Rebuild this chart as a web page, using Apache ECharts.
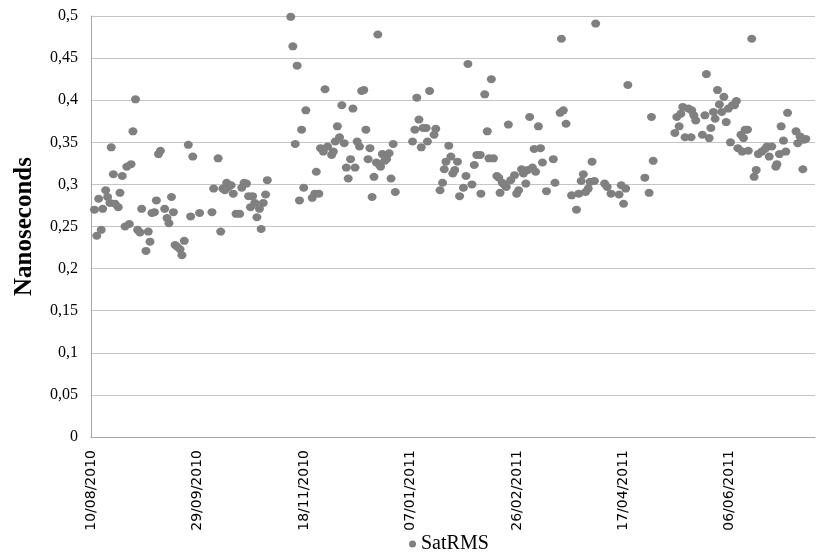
<!DOCTYPE html>
<html><head><meta charset="utf-8">
<script src="https://cdn.jsdelivr.net/npm/echarts@6/dist/echarts.min.js"></script>
<style>html,body{margin:0;padding:0;background:#fff}#c{width:818px;height:555px}</style>
</head><body><div id="c"></div>
<script>
// Days elapsed since the first date on the axis (10/08/2010)
const startDate = '2010-08-10';
const dayOffsets = [
1.6,2.7,3.6,4.8,5.5,6.9,7.8,8.9,9.5,10.5,11.3,12.8,13.6,14.7,16.0,16.8,18.0,18.8,19.7,20.9,
21.9,23.0,23.8,25.8,26.9,27.7,28.6,29.8,30.7,31.7,32.6,34.6,35.7,36.6,37.8,38.7,39.5,40.5,41.8,42.7,
43.8,45.7,46.8,47.8,51.0,56.8,57.6,59.7,60.9,61.9,62.9,63.7,64.5,65.8,66.8,68.1,69.8,70.8,71.9,73.0,
74.0,74.9,75.9,76.9,77.9,79.1,79.9,80.9,82.0,82.8,93.8,94.8,95.9,96.8,97.9,98.9,99.9,100.9,103.9,105.1,
105.8,107.0,107.8,109.1,109.9,111.1,113.0,113.8,114.7,115.7,116.7,117.8,118.9,119.9,120.8,121.9,123.0,124.0,125.0,126.1,
127.1,128.1,129.1,130.1,131.0,132.0,132.9,134.0,134.7,135.2,136.0,136.8,137.9,138.8,140.0,140.9,141.9,142.9,151.0,152.1,
153.0,154.0,155.1,155.9,157.4,158.0,159.0,161.1,161.9,163.9,165.1,165.9,166.7,168.0,169.0,169.9,170.8,172.1,173.1,174.9,
176.1,177.0,178.9,180.0,181.2,182.8,183.1,184.9,186.1,186.9,188.0,189.0,190.6,191.5,192.1,193.1,194.0,195.0,196.0,197.1,
198.9,199.9,200.8,202.2,203.1,204.2,205.0,206.0,207.3,208.1,208.8,210.1,211.1,212.0,213.9,217.1,217.9,220.3,220.9,221.8,
223.1,225.7,228.0,229.1,230.2,231.2,232.3,233.5,234.4,235.3,236.4,237.0,241.2,242.4,244.2,248.0,249.0,250.1,251.1,252.1,
260.1,262.1,263.2,264.0,274.2,275.1,276.2,277.0,277.9,279.0,280.6,281.8,282.1,283.1,284.0,287.1,288.3,289.0,290.3,291.1,
292.3,293.1,294.2,295.1,296.2,297.2,298.3,299.3,300.3,301.2,302.2,303.1,303.8,305.2,305.8,306.4,307.2,308.3,308.7,310.3,
311.4,312.4,313.4,315.0,316.6,317.4,318.5,319.7,321.6,322.1,323.3,324.1,325.2,326.3,327.1,331.1,331.9,333.0,334.3,334.9,
335.7
];
const satRMS = [
0.270,0.239,0.283,0.246,0.271,0.293,0.285,0.278,0.344,0.312,0.277,0.273,0.290,0.310,0.250,0.321,0.253,0.324,0.363,0.401,
0.246,0.243,0.271,0.221,0.244,0.232,0.266,0.267,0.281,0.336,0.340,0.271,0.260,0.254,0.285,0.267,0.228,0.226,0.223,0.216,
0.233,0.347,0.262,0.333,0.266,0.267,0.295,0.331,0.244,0.295,0.293,0.302,0.297,0.299,0.289,0.265,0.265,0.296,0.302,0.301,
0.286,0.273,0.286,0.278,0.261,0.271,0.247,0.278,0.288,0.305,0.499,0.464,0.348,0.441,0.281,0.365,0.296,0.388,0.284,0.289,
0.315,0.289,0.343,0.339,0.413,0.345,0.335,0.339,0.351,0.369,0.356,0.394,0.349,0.320,0.307,0.330,0.390,0.320,0.351,0.345,
0.411,0.412,0.365,0.330,0.343,0.285,0.309,0.326,0.478,0.324,0.321,0.336,0.328,0.330,0.337,0.307,0.348,0.291,0.351,0.365,
0.403,0.377,0.344,0.367,0.367,0.351,0.411,0.359,0.366,0.293,0.302,0.318,0.327,0.346,0.333,0.313,0.317,0.327,0.286,0.296,
0.310,0.443,0.300,0.323,0.335,0.335,0.289,0.407,0.363,0.331,0.425,0.331,0.310,0.308,0.290,0.302,0.300,0.297,0.371,0.305,
0.311,0.289,0.293,0.318,0.313,0.301,0.317,0.380,0.320,0.342,0.315,0.369,0.343,0.326,0.292,0.330,0.302,0.385,0.473,0.388,
0.372,0.287,0.270,0.289,0.304,0.312,0.291,0.295,0.303,0.327,0.304,0.491,0.301,0.297,0.289,0.288,0.299,0.277,0.295,0.418,
0.308,0.290,0.380,0.328,0.361,0.380,0.369,0.384,0.392,0.356,0.390,0.356,0.388,0.382,0.376,0.359,0.382,0.431,0.355,0.367,
0.386,0.378,0.412,0.395,0.386,0.404,0.374,0.390,0.350,0.394,0.394,0.399,0.343,0.359,0.339,0.355,0.365,0.365,0.340,0.473,
0.309,0.317,0.336,0.339,0.342,0.345,0.333,0.345,0.321,0.324,0.336,0.369,0.352,0.339,0.385,0.363,0.349,0.357,0.318,0.353,
0.354
];
const xMin = 0, xMax = 340, xStep = 50;
const yMin = 0, yMax = 0.5, yStep = 0.05;
const seriesName = 'SatRMS';
const yTitle = 'Nanoseconds';

const startMs = Date.parse(startDate + 'T00:00:00Z');
function fmtDate(v) {
  const d = new Date(startMs + v * 86400000);
  const p = n => (n < 10 ? '0' : '') + n;
  return p(d.getUTCDate()) + '/' + p(d.getUTCMonth() + 1) + '/' + d.getUTCFullYear();
}
function fmtNum(v) {
  let s = (Math.round(v * 100) / 100).toString();
  return s.replace('.', ',');
}
const points = dayOffsets.map((d, i) => [d, satRMS[i]]);

const chart = echarts.init(document.getElementById('c'), null, {renderer: 'canvas'});
chart.setOption({
  animation: false,
  backgroundColor: '#ffffff',
  grid: {left: 91, right: 3, top: 16, bottom: 118, containLabel: false},
  xAxis: {
    type: 'value', min: xMin, max: xMax, interval: xStep,
    axisLine: {show: true, lineStyle: {color: '#a6a6a6', width: 1}},
    axisTick: {show: false},
    splitLine: {show: false},
    axisLabel: {
      rotate: 90, margin: 13, formatter: fmtDate, showMaxLabel: false,
      fontFamily: 'DejaVu Sans', fontSize: 14, color: '#000'
    }
  },
  yAxis: {
    type: 'value', min: yMin, max: yMax, interval: yStep,
    name: yTitle, nameLocation: 'middle', nameGap: 54, nameRotate: 90,
    nameTextStyle: {fontFamily: 'Liberation Serif', fontSize: 25, fontWeight: 'bold', color: '#000'},
    axisLine: {show: true, lineStyle: {color: '#a6a6a6', width: 1}},
    axisTick: {show: false},
    splitLine: {show: true, lineStyle: {color: '#c4c4c4', width: 1}},
    axisLabel: {
      margin: 13, formatter: fmtNum,
      fontFamily: 'Liberation Serif', fontSize: 16, color: '#000'
    }
  },
  legend: {
    show: true, left: 409, top: 534, padding: 0,
    icon: 'circle', itemWidth: 7, itemHeight: 7, itemGap: 4,
    textStyle: {fontFamily: 'Liberation Serif', fontSize: 20, color: '#000'},
    data: [seriesName]
  },
  series: [{
    name: seriesName, type: 'scatter', data: points,
    symbol: 'circle', symbolSize: [9, 8],
    itemStyle: {color: '#808080', opacity: 1}
  }]
});
</script></body></html>
